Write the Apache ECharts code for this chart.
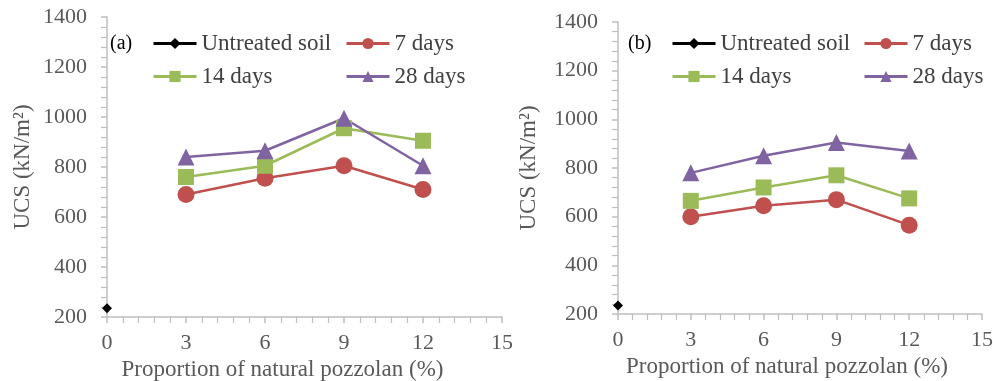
<!DOCTYPE html>
<html><head><meta charset="utf-8">
<script src="https://cdn.jsdelivr.net/npm/echarts@6/dist/echarts.min.js"></script>
<style>html,body{margin:0;padding:0;background:#fff}#c{width:993px;height:381px}</style>
</head><body><div id="c"></div>
<script>
const xCats = [3, 6, 9, 12];
const untreatedX = [0];
const untreatedA = [235];
const a7 = [690, 755, 805, 710];
const a14 = [760, 805, 955, 905];
const a28 = [840, 865, 995, 805];
const untreatedB = [235];
const b7 = [600, 645, 670, 565];
const b14 = [665, 720, 770, 675];
const b28 = [780, 850, 905, 870];
const names = ['Untreated soil', '7 days', '14 days', '28 days'];
const panelLabels = ['(a)', '(b)'];
const xTicks = [0, 3, 6, 9, 12, 15];
const yTicks = [200, 400, 600, 800, 1000, 1200, 1400];

const FONT = '"Liberation Serif", "Times New Roman", serif';
const TXT = '#595959';
const AX = '#bfbfbf';
const colors = ['#000000', '#C0504D', '#9BBB59', '#8064A2'];
const symbols = ['diamond', 'circle', 'rect', 'triangle'];
const sizes = [10, 17, 16, 17];

function pairs(xs, ys) { return xs.map((x, i) => [x, ys[i]]); }

const grids = [
  {left: 107, right: 491, top: 17, bottom: 64, outerBoundsMode: 'none', containLabel: false},
  {left: 618, right: 11, top: 22, bottom: 67, outerBoundsMode: 'none', containLabel: false}
];

function xAxis(gi) {
  return {
    type: 'value', gridIndex: gi, min: xTicks[0], max: xTicks[xTicks.length - 1], interval: 3,
    name: 'Proportion of natural pozzolan (%)', nameLocation: 'middle', nameGap: 41,
    nameTextStyle: {fontFamily: FONT, fontSize: 23, color: TXT, padding: [0, gi === 0 ? 44 : 26, 0, 0]},
    axisLine: {show: true, lineStyle: {color: AX, width: 1.5}},
    axisTick: {show: true, length: 6, lineStyle: {color: AX, width: 1.5}},
    minorTick: {show: true, splitNumber: 5, length: 6, lineStyle: {color: AX, width: 1.2}},
    axisLabel: {fontFamily: FONT, fontSize: 22, color: TXT, margin: 15},
    splitLine: {show: false}
  };
}
function yAxis(gi) {
  return {
    type: 'value', gridIndex: gi, min: yTicks[0], max: yTicks[yTicks.length - 1], interval: 200,
    name: 'UCS (kN/m²)', nameLocation: 'middle', nameGap: gi === 0 ? 73 : 78,
    nameTextStyle: {fontFamily: FONT, fontSize: 23, color: TXT},
    axisLine: {show: true, lineStyle: {color: AX, width: 1.5}},
    axisTick: {show: true, length: 6, lineStyle: {color: AX, width: 1.5}},
    minorTick: {show: true, splitNumber: 5, length: 6, lineStyle: {color: AX, width: 1.2}},
    axisLabel: {fontFamily: FONT, fontSize: 22, color: TXT, margin: 20, formatter: v => String(v)},
    splitLine: {show: false}
  };
}

const dataA = [pairs(untreatedX, untreatedA), pairs(xCats, a7), pairs(xCats, a14), pairs(xCats, a28)];
const dataB = [pairs(untreatedX, untreatedB), pairs(xCats, b7), pairs(xCats, b14), pairs(xCats, b28)];

const series = [];
[dataA, dataB].forEach((d, gi) => {
  d.forEach((pts, i) => {
    series.push({
      type: 'line', name: names[i], xAxisIndex: gi, yAxisIndex: gi, data: pts,
      symbol: symbols[i], symbolSize: sizes[i],
      itemStyle: {color: colors[i]},
      lineStyle: {color: colors[i], width: 2.5},
      emphasis: {disabled: true}, animation: false
    });
  });
});

function legend(left, top, items) {
  return {
    left: left, top: top, orient: 'vertical', data: items, itemGap: 10, padding: 0,
    itemWidth: 43, itemHeight: 14,
    lineStyle: {width: 3},
    textStyle: {fontFamily: FONT, fontSize: 23, color: '#404040'},
    selectedMode: false
  };
}

const option = {
  backgroundColor: '#fff',
  animation: false,
  grid: grids,
  xAxis: [xAxis(0), xAxis(1)],
  yAxis: [yAxis(0), yAxis(1)],
  legend: [
    legend(152, 32, ['Untreated soil', '14 days']),
    legend(345, 32, ['7 days', '28 days']),
    legend(671, 32, ['Untreated soil', '14 days']),
    legend(863, 32, ['7 days', '28 days'])
  ],
  title: [
    {text: panelLabels[0], left: 110, top: 34, padding: 0, textStyle: {fontFamily: FONT, fontSize: 20, fontWeight: 'normal', color: '#000'}},
    {text: panelLabels[1], left: 628, top: 34, padding: 0, textStyle: {fontFamily: FONT, fontSize: 20, fontWeight: 'normal', color: '#000'}}
  ],
  series: series
};
const chart = echarts.init(document.getElementById('c'), null, {renderer: 'canvas'});
chart.setOption(option);
</script>
</body></html>
